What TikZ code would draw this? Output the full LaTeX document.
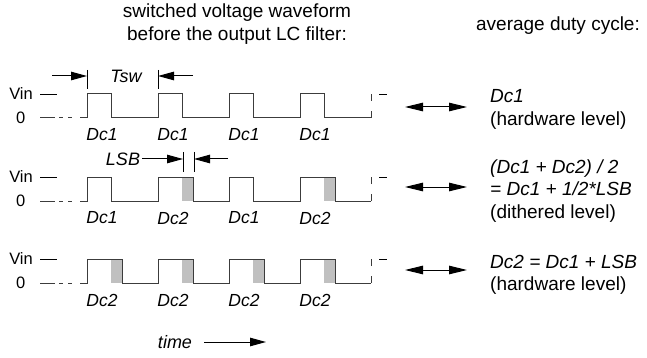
\documentclass[tikz,border=0pt]{standalone}
\usepackage{fontspec}
\setmainfont{Liberation Sans}
\usetikzlibrary{arrows.meta}
\usetikzlibrary{positioning}
\definecolor{wavegray}{RGB}{60,60,60}
\definecolor{lsbgray}{RGB}{192,192,192}

\tikzset{
  waveline/.style={line width=1pt, draw=wavegray},
  tickline/.style={line width=0.9pt, black},
  lbl/.style={font=\fontsize{19}{22.5}\selectfont, inner sep=0pt},
  smlbl/.style={font=\fontsize{16.5}{20}\selectfont, inner sep=0pt},
  pulselbl/.style={font=\fontsize{17.5}{20}\selectfont\itshape, inner sep=0pt},
  dimlbl/.style={font=\fontsize{18}{20}\selectfont\itshape, inner sep=0pt},
  dimarrow/.style={line width=1pt, -{Triangle[length=16pt,width=8.5pt]}},
  bothway/.style={line width=1pt, {Triangle[length=18pt,width=8.5pt]}-{Triangle[length=18pt,width=8.5pt]}},
}

\begin{document}
\begin{tikzpicture}[x=1pt, y=-1pt]
\useasboundingbox (0,0) rectangle (647,358);

%---------------------------------------
% Shared values
%---------------------------------------
\def\Per{71}     % switching period
\def\Dw{24}      % Dc1 pulse width
\def\Lsb{11}     % one LSB
\def\Hv{24}      % Vin level
\def\Tend{371}   % end of trace

% Headings
\node[lbl, align=center] (head) at (237,24) {switched voltage waveform\\before the output LC filter:};
\node[lbl] (avg) at (558,26) {average duty cycle:};

%====================================================
% Levels, lead-in and end of each trace
%====================================================
\foreach \r/\y in {A/118, B/201, C/283}{
  \begin{scope}[shift={(0,\y)}]
    \node[smlbl, anchor=east] (vin\r) at (33,-\Hv) {Vin};
    \node[smlbl, anchor=east] (zero\r) at (25.5,0) {0};
    \draw[tickline] (40,-\Hv) -- (57,-\Hv);
    \draw[waveline, dash pattern=on 15pt off 4pt on 4pt off 5pt on 4pt off 8pt] (40,0) -- (80,0);
    \draw[waveline, dash pattern=on 7pt off 10pt] (\Tend,0) -- (\Tend,-\Hv);
    \draw[tickline] (379,-\Hv) -- (387,-\Hv);
  \end{scope}
}

%====================================================
% Row A: Dc1 every period
%====================================================
\begin{scope}[shift={(0,118)}]
  \draw[waveline] (80,0)
    \foreach \k in {0,...,3}{ -- (87+\k*\Per,0) -- (87+\k*\Per,-\Hv)
      -- (87+\k*\Per+\Dw,-\Hv) -- (87+\k*\Per+\Dw,0) } -- (\Tend,0);
  \foreach \k in {0,...,3}
    \node[pulselbl] (dcA\k) at (102+\k*\Per,17) {Dc1};

  % Tsw
  \node[dimlbl] (tsw) at (126,-42) {Tsw};
  \coordinate (tswL) at (87,-42);
  \coordinate (tswR) at (158,-42);
  \draw[tickline] (87,-48) -- (87,-29);
  \draw[tickline] (158,-48) -- (158,-29);
  \draw[dimarrow] ([xshift=-35pt]tswL) -- (tswL);
  \draw[dimarrow] ([xshift=35pt]tswR) -- (tswR);
\end{scope}

%====================================================
% Row B: Dc1 and Dc2 in turn (dithered)
%====================================================
\begin{scope}[shift={(0,201)}]
  \foreach \k in {1,3}
    \fill[lsbgray] (87+\k*\Per+\Dw,0) rectangle ++(\Lsb,-\Hv);
  \draw[waveline] (80,0)
    \foreach \k/\w in {0/24,1/35,2/24,3/35}{ -- (87+\k*\Per,0) -- (87+\k*\Per,-\Hv)
      -- (87+\k*\Per+\w,-\Hv) -- (87+\k*\Per+\w,0) } -- (\Tend,0);
  \foreach \k/\t in {0/Dc1,1/Dc2,2/Dc1,3/Dc2}
    \node[pulselbl] (dcB\k) at (102+\k*\Per,17) {\t};

  % LSB
  \node[dimlbl] (lsb) at (123,-42) {LSB};
  \coordinate (lsbL) at (183,-42);
  \coordinate (lsbR) at (194,-42);
  \draw[tickline] (183,-49) -- (183,-29);
  \draw[tickline] (194,-49) -- (194,-29);
  \draw[dimarrow] (lsb.east) ++(2,0) -- (lsbL);
  \draw[dimarrow] ([xshift=34pt]lsbR) -- (lsbR);
\end{scope}

%====================================================
% Row C: Dc2 every period
%====================================================
\begin{scope}[shift={(0,283)}]
  \foreach \k in {0,...,3}
    \fill[lsbgray] (87+\k*\Per+\Dw,0) rectangle ++(\Lsb,-\Hv);
  \draw[waveline] (80,0)
    \foreach \k in {0,...,3}{ -- (87+\k*\Per,0) -- (87+\k*\Per,-\Hv)
      -- (87+\k*\Per+\Dw+\Lsb,-\Hv) -- (87+\k*\Per+\Dw+\Lsb,0) } -- (\Tend,0);
  \foreach \k in {0,...,3}
    \node[pulselbl] (dcC\k) at (102+\k*\Per,17) {Dc2};
\end{scope}

%====================================================
% Average duty cycle column
%====================================================
\node[lbl, anchor=west, align=left] (avgA) at (490,109.5) {\itshape Dc1\\(hardware level)};
\node[lbl, anchor=west, align=left] (avgB) at (490,191) {\itshape (Dc1 + Dc2) / 2\\\itshape = Dc1 + 1/2*LSB\\(dithered level)};
\node[lbl, anchor=west, align=left] (avgC) at (490,275) {\itshape Dc2 = Dc1 + LSB\\(hardware level)};

\foreach \r/\y in {A/107, B/187, C/270}{
  \coordinate (arL\r) at (405,\y);
  \coordinate (arR\r) at (467,\y);
  \draw[bothway] (arL\r) -- (arR\r);
}

% time axis
\node[dimlbl] (time) at (175,342) {time};
\coordinate (timeEnd) at (266,342);
\draw[dimarrow] ([xshift=12pt]time.east) -- (timeEnd);

\end{tikzpicture}
\end{document}
